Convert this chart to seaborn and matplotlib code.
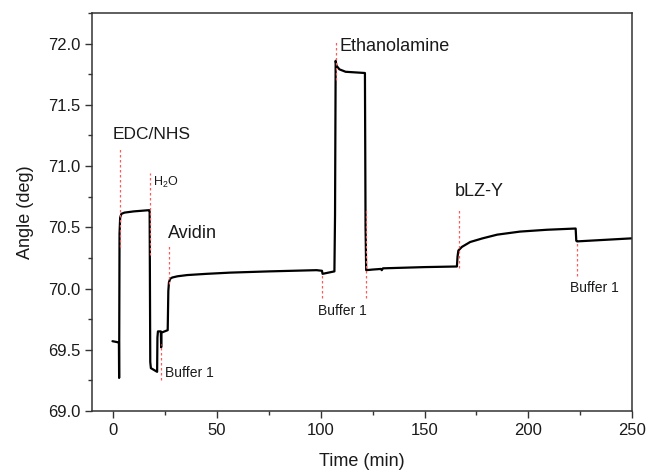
import matplotlib
matplotlib.use("Agg")
import matplotlib.pyplot as plt
from matplotlib.ticker import MultipleLocator, FormatStrFormatter
import seaborn as sns
import pandas as pd

# ---- data ----
time_min = [-0.3, 2.7, 2.8, 2.9, 3.1, 3.4, 4.0, 5.5, 10.0, 17.4,
            17.6, 17.9, 18.2, 21.2, 21.35, 21.6, 23.0, 23.15, 23.3, 26.3,
            26.6, 26.9, 27.5, 28.5, 31.0, 35.7, 45.0, 56.5, 75.0, 98.0,
            100.6, 100.9, 106.6, 106.9, 107.2, 107.6, 109.0, 112.0, 121.3, 121.6,
            121.9, 125.0, 129.0, 129.4, 130.0, 150.0, 165.6, 165.9, 166.3, 168.0,
            172.0, 178.0, 185.0, 196.0, 209.0, 222.8, 223.1, 223.5, 250.0]
angle_deg = [69.57, 69.56, 69.56, 69.27, 70.45, 70.58, 70.61, 70.62, 70.63, 70.64,
             70.63, 69.40, 69.35, 69.32, 69.60, 69.65, 69.65, 69.52, 69.64, 69.66,
             69.98, 70.05, 70.08, 70.09, 70.10, 70.11, 70.12, 70.13, 70.14, 70.15,
             70.145, 70.12, 70.14, 70.60, 71.86, 71.82, 71.79, 71.77, 71.76, 70.50,
             70.15, 70.155, 70.16, 70.15, 70.165, 70.175, 70.18, 70.26, 70.31, 70.34,
             70.38, 70.41, 70.44, 70.465, 70.48, 70.49, 70.39, 70.385, 70.41]

marker_x = [3.3, 17.8, 23.2, 27.0, 100.8, 107.2, 121.8, 166.5, 223.4]
marker_lo = [70.34, 70.27, 69.25, 70.04, 69.92, 71.70, 69.92, 70.17, 70.10]
marker_hi = [71.14, 70.94, 69.55, 70.35, 70.12, 72.03, 70.66, 70.64, 70.39]

label_text = ["EDC/NHS", "H$_2$O", "Avidin", "Buffer 1", "Buffer 1",
              "Ethanolamine", "bLZ-Y", "Buffer 1"]
label_x = [-0.1, 19.0, 26.6, 24.8, 98.5, 108.9, 164.7, 220.0]
label_y = [71.22, 70.84, 70.41, 69.28, 69.78, 71.94, 70.755, 69.97]
label_size = [12.5, 9, 13, 10, 10, 13, 13, 10]

# ---- style ----
sns.set_theme(style="ticks")
plt.rcParams["font.family"] = ["Liberation Sans", "DejaVu Sans"]
plt.rcParams["mathtext.default"] = "regular"

fig = plt.figure(figsize=(6.48, 4.71), dpi=100)
ax = fig.add_axes([0.1425, 0.1274, 0.833, 0.845])

df = pd.DataFrame({"Time (min)": time_min, "Angle (deg)": angle_deg})
sns.lineplot(data=df, x="Time (min)", y="Angle (deg)", sort=False,
             estimator=None, color="black", lw=1.6, ax=ax)

ax.vlines(marker_x, marker_lo, marker_hi, colors="#ff5a5a",
          linestyles=(0, (2, 2)), lw=0.9, zorder=3)

for t, x, y, s in zip(label_text, label_x, label_y, label_size):
    ax.text(x, y, t, fontsize=s, ha="left", va="baseline", color="#1a1a1a")

ax.set_xlim(-10, 250)
ax.set_ylim(69.0, 72.25)
ax.xaxis.set_major_locator(MultipleLocator(50))
ax.xaxis.set_minor_locator(MultipleLocator(25))
ax.yaxis.set_major_locator(MultipleLocator(0.5))
ax.yaxis.set_minor_locator(MultipleLocator(0.25))
ax.yaxis.set_major_formatter(FormatStrFormatter("%.1f"))

ax.tick_params(axis="both", which="major", direction="out", length=5,
               width=1, labelsize=12, color="#333333", labelcolor="#1a1a1a", pad=3.5)
ax.tick_params(axis="both", which="minor", direction="out", length=3,
               width=1, color="#333333")
for sp in ax.spines.values():
    sp.set_visible(True)
    sp.set_linewidth(1.1)
    sp.set_color("#333333")

ax.set_xlabel("Time (min)", fontsize=13, color="#1a1a1a", labelpad=11)
ax.set_ylabel("Angle (deg)", fontsize=13, color="#1a1a1a", labelpad=10)

fig.savefig("out.png", dpi=100)
